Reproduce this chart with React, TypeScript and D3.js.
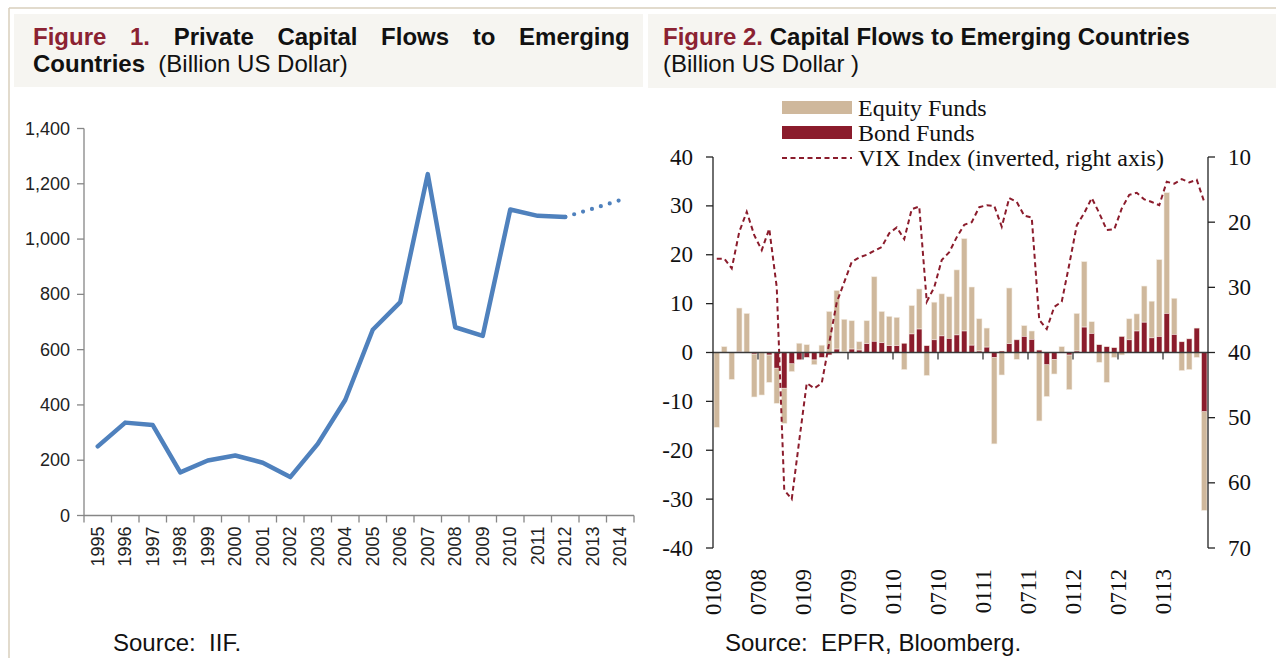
import React from 'react'
import * as d3 from 'd3'

// Figure 1: private capital flows (billion USD), 2013-2014 are projections
const years = ['1995', '1996', '1997', '1998', '1999', '2000', '2001', '2002', '2003', '2004',
  '2005', '2006', '2007', '2008', '2009', '2010', '2011', '2012', '2013', '2014']
const privateFlows = [250, 336, 327, 156, 199, 217, 191, 139, 259, 418,
  672, 772, 1235, 681, 650, 1107, 1084, 1080, 1110, 1141]
const lastActual = 17

const flowTicks = [0, 200, 400, 600, 800, 1000, 1200, 1400]

// Figure 2: monthly fund flows Jan 2008 - Jun 2013
const monthTickLabels = ['0108', '0708', '0109', '0709', '0110', '0710', '0111', '0711', '0112', '0712', '0113']
const bondFunds = [
  0, 0, 0, 0.2, 0, -0.3, 0, -0.5, -3.2, -7.3, -2.3, -1.5,
  -1.0, -1.5, -1.0, -0.5, 0.7, 0.1, 0.7, 0.5, 1.8, 2.3, 2.0, 1.4,
  1.4, 1.9, 3.8, 4.8, 1.4, 2.6, 3.4, 2.9, 3.6, 4.4, 1.5, 0.3,
  1.1, -1.0, 0.3, 1.8, 2.6, 3.3, 2.7, 0.5, -2.5, -1.4, 0, -0.5,
  0.3, 5.2, 3.9, 1.6, 1.2, 1.0, 3.3, 2.6, 4.4, 6.2, 3.0, 3.3,
  8.0, 3.7, 2.2, 2.8, 5.0, -12.1,
]
const equityFunds = [
  -15.3, 1.2, -5.5, 8.9, 8.0, -8.8, -8.7, -5.6, -7.2, -7.2, -1.6, 1.9,
  1.6, -1.0, 1.5, 8.4, 12.0, 6.7, 5.8, 1.7, 4.7, 13.2, 6.4, 6.0,
  5.8, -3.5, 5.8, 8.2, -4.7, 7.7, 8.6, 8.5, 13.3, 18.9, 11.9, 6.6,
  3.9, -17.7, -4.6, 11.4, -1.4, 2.2, 1.7, -14.0, -6.5, -3.0, 1.2, -7.1,
  7.7, 13.4, 2.4, -2.0, -6.1, -1.0, -0.5, 4.3, 3.5, 7.4, 7.5, 15.7,
  24.7, 7.4, -3.7, -3.5, -1.0, -20.2,
]
const vixIndex = [
  25.6, 25.6, 27.1, 21.5, 18.4, 22.0, 24.3, 21.0, 30.0, 61.1, 62.5, 53.5,
  44.7, 45.5, 44.7, 38.5, 32.3, 29.2, 26.1, 25.4, 25.0, 24.4, 23.8, 21.7,
  20.8, 22.6, 18.0, 17.6, 32.2, 30.0, 25.8, 24.6, 22.3, 20.4, 20.0, 17.7,
  17.4, 17.5, 20.7, 16.3, 16.9, 19.0, 19.3, 35.0, 36.4, 33.0, 32.2, 26.5,
  20.5, 18.6, 16.3, 18.6, 21.2, 21.1, 17.9, 15.8, 15.5, 16.5, 16.9, 17.4,
  13.8, 14.1, 13.4, 13.9, 13.5, 16.9,
]
const fundTicks = [-40, -30, -20, -10, 0, 10, 20, 30, 40]
const vixTicks = [10, 20, 30, 40, 50, 60, 70]

const TAN = '#cfb89c'
const RED = '#8b1c2c'
const TITLE_RED = '#8b2232'
const BLUE = '#4f81bd'
const HEAD_BG = '#f6f5f1'
const RULE = '#d9cfbd'

const sans = 'Liberation Sans, Arial, sans-serif'
const serif = 'Liberation Serif, Times New Roman, serif'

const App = () => {
  // ---------- left chart ----------
  const xL = d3.scaleBand<string>().domain(years).range([84, 634])
  const yL = d3.scaleLinear().domain([0, 1400]).range([515.5, 128.5])
  const cx = (i: number) => (xL(years[i]) as number) + xL.bandwidth() / 2
  const flowLine = d3.line<number>().x((_, i) => cx(i)).y(d => yL(d))
  const actualPath = flowLine(privateFlows.slice(0, lastActual + 1)) as string
  const projLine = d3.line<number>().x((_, i) => cx(i + lastActual)).y(d => yL(d))
  const projPath = projLine(privateFlows.slice(lastActual)) as string

  // ---------- right chart ----------
  const months = d3.timeMonths(new Date(2008, 0, 1), new Date(2013, 6, 1)).map(d3.timeFormat('%m%y'))
  const pad = 0.27
  const xR = d3.scaleBand<string>().domain(months).range([713, 1208]).paddingInner(pad).paddingOuter(pad / 2)
  const slotStart = (m: string) => (xR(m) as number) - (xR.step() - xR.bandwidth()) / 2
  const yF = d3.scaleLinear().domain([-40, 40]).range([548, 157])
  const yV = d3.scaleLinear().domain([10, 70]).range([157, 548])

  const rows = months.map((m, i) => ({ month: m, bond: bondFunds[i], equity: equityFunds[i] }))
  const stacked = d3.stack<any>().keys(['bond', 'equity']).offset(d3.stackOffsetDiverging)(rows)
  const colors: Record<string, string> = { bond: RED, equity: TAN }
  const drawOrder = [stacked[1], stacked[0]]

  const vixLine = d3.line<number>()
    .x((_, i) => (xR(months[i]) as number) + xR.bandwidth() / 2)
    .y(d => yV(d))
  const vixPath = vixLine(vixIndex) as string

  return (
    <div style={{ position: 'absolute', left: 0, top: 0 }}>
      <svg width={1276} height={658} style={{ display: 'block', background: '#fff' }}>
        {/* frame */}
        <line x1={9} x2={1276} y1={8} y2={8} stroke={RULE} strokeWidth={1.5} />
        <line x1={9} x2={9} y1={8} y2={658} stroke={RULE} strokeWidth={1.5} />
        <rect x={14} y={14} width={629} height={73} fill={HEAD_BG} />
        <rect x={648} y={14} width={628} height={74} fill={HEAD_BG} />

        {/* headers */}
        <text x={33} y={45} fontFamily={sans} fontSize={24} fontWeight="bold" wordSpacing={17}>
          <tspan fill={TITLE_RED}>Figure 1.</tspan>
          <tspan fill="#111"> Private Capital Flows to Emerging</tspan>
        </text>
        <text x={33} y={72} fontFamily={sans} fontSize={24} fill="#111">
          <tspan fontWeight="bold">Countries</tspan>
          <tspan xmlSpace="preserve">{'  (Billion US Dollar)'}</tspan>
        </text>
        <text x={663} y={45} fontFamily={sans} fontSize={24} fontWeight="bold">
          <tspan fill={TITLE_RED}>Figure 2.</tspan>
          <tspan fill="#111"> Capital Flows to Emerging Countries</tspan>
        </text>
        <text x={663} y={72} fontFamily={sans} fontSize={24} fill="#111">(Billion US Dollar )</text>

        {/* ---------- left chart ---------- */}
        <g fontFamily={sans} fontSize={18} fill="#222">
          {flowTicks.map(t => (
            <g key={t}>
              <line x1={77} x2={84} y1={yL(t)} y2={yL(t)} stroke="#868686" strokeWidth={1.3} />
              <text x={70} y={yL(t)} textAnchor="end" dominantBaseline="central">{d3.format(',')(t)}</text>
            </g>
          ))}
          <line x1={84} x2={84} y1={yL(1400)} y2={yL(0)} stroke="#868686" strokeWidth={1.3} />
          <line x1={84} x2={634} y1={yL(0)} y2={yL(0)} stroke="#868686" strokeWidth={1.3} />
          {years.map(y => (
            <line key={'t' + y} x1={xL(y)} x2={xL(y)} y1={yL(0)} y2={yL(0) + 7} stroke="#868686" strokeWidth={1.3} />
          ))}
          <line x1={634} x2={634} y1={yL(0)} y2={yL(0) + 7} stroke="#868686" strokeWidth={1.3} />
          {years.map((y, i) => (
            <text key={y} transform={`translate(${cx(i)},${yL(0) + 11}) rotate(-90)`} textAnchor="end" dominantBaseline="central">{y}</text>
          ))}
        </g>
        <path d={actualPath} fill="none" stroke={BLUE} strokeWidth={4.5} strokeLinejoin="round" strokeLinecap="round" />
        <path d={projPath} fill="none" stroke={BLUE} strokeWidth={4.2} strokeLinecap="round" strokeDasharray="0 9.3" strokeDashoffset={-9.3} />
        <text x={113} y={651} fontFamily={sans} fontSize={24} fill="#111" xmlSpace="preserve">{'Source:  IIF.'}</text>

        {/* ---------- right chart ---------- */}
        {drawOrder.map(s => (
          <g key={s.key} fill={colors[s.key]}>
            {s.map((d, i) => {
              const y0 = yF(d[0]), y1 = yF(d[1])
              return (
                <rect key={i} x={xR(months[i])} width={xR.bandwidth()} y={Math.min(y0, y1)} height={Math.abs(y1 - y0)}
                  stroke="#f3ece2" strokeWidth={0.6} />
              )
            })}
          </g>
        ))}
        <path d={vixPath} fill="none" stroke={RED} strokeWidth={2} strokeDasharray="5 3.5" />
        <line x1={713} x2={1208} y1={yF(0)} y2={yF(0)} stroke="#3a3a3a" strokeWidth={1.5} />
        {monthTickLabels.map((m, k) => k > 0 && (
          <line key={'xt' + m} x1={slotStart(m)} x2={slotStart(m)} y1={yF(0)} y2={yF(0) + 7} stroke="#3a3a3a" strokeWidth={1.3} />
        ))}
        <g fontFamily={serif} fontSize={23} fill="#111">
          <line x1={713} x2={713} y1={yF(40)} y2={yF(-40)} stroke="#222" strokeWidth={1.3} />
          {fundTicks.map(t => (
            <g key={'f' + t}>
              <line x1={706} x2={713} y1={yF(t)} y2={yF(t)} stroke="#222" strokeWidth={1.3} />
              <text x={693} y={yF(t)} textAnchor="end" dominantBaseline="central">{String(t)}</text>
            </g>
          ))}
          <line x1={1208} x2={1208} y1={yV(10)} y2={yV(70)} stroke="#222" strokeWidth={1.3} />
          {vixTicks.map(t => (
            <g key={'v' + t}>
              <line x1={1208} x2={1215} y1={yV(t)} y2={yV(t)} stroke="#222" strokeWidth={1.3} />
              <text x={1228} y={yV(t)} dominantBaseline="central">{String(t)}</text>
            </g>
          ))}
          {monthTickLabels.map(m => (
            <text key={'xl' + m} transform={`translate(${slotStart(m)},${yF(-40) + 21}) rotate(-90)`} textAnchor="end" dominantBaseline="central">{m}</text>
          ))}

          {/* legend */}
          <g fontSize={24}>
            <rect x={782} y={101} width={70} height={13} fill={TAN} />
            <text x={858} y={108} dominantBaseline="central">Equity Funds</text>
            <rect x={782} y={126} width={70} height={13} fill={RED} />
            <text x={858} y={133} dominantBaseline="central">Bond Funds</text>
            <line x1={782} x2={852} y1={158} y2={158} stroke={RED} strokeWidth={2} strokeDasharray="5 3.5" />
            <text x={858} y={158} dominantBaseline="central">VIX Index (inverted, right axis)</text>
          </g>
        </g>
        <text x={725} y={651} fontFamily={sans} fontSize={24} fill="#111" xmlSpace="preserve">{'Source:  EPFR, Bloomberg.'}</text>
      </svg>
    </div>
  )
}

export default App
